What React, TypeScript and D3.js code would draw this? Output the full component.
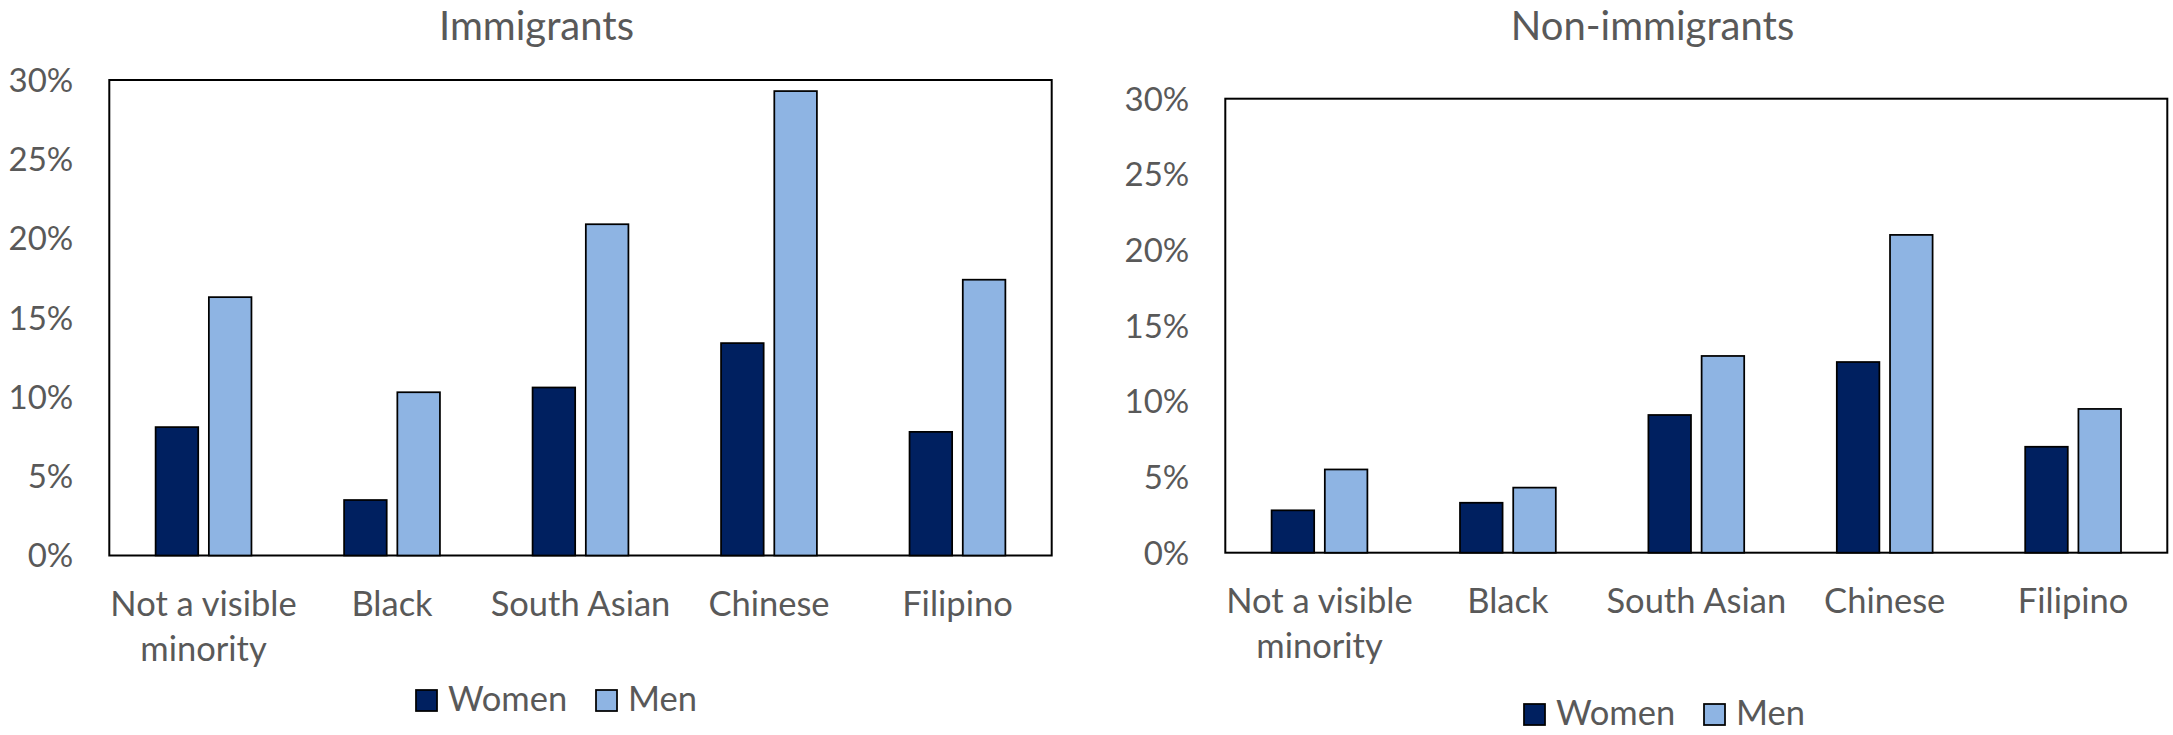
import * as d3 from "d3";

// categories and values (percent)
const categories = ["Not a visible minority", "Black", "South Asian", "Chinese", "Filipino"];
const categoryLines = [["Not a visible", "minority"], ["Black"], ["South Asian"], ["Chinese"], ["Filipino"]];
const seriesNames = ["Women", "Men"];
const seriesColors = ["#002060", "#8EB4E3"];

const immigrantWomen = [8.1, 3.5, 10.6, 13.4, 7.8];
const immigrantMen = [16.3, 10.3, 20.9, 29.3, 17.4];
const nonImmigrantWomen = [2.8, 3.3, 9.1, 12.6, 7.0];
const nonImmigrantMen = [5.5, 4.3, 13.0, 21.0, 9.5];

const yTicks = [0, 5, 10, 15, 20, 25, 30];

const FONT = "Lato, 'Open Sans', sans-serif";
const TEXT = "#595959";

type Box = { left: number; right: number; top: number; bottom: number };

type PanelProps = {
    title: string;
    women: number[];
    men: number[];
    box: Box;
    titleX: number;
    legendX: number;
    legendY: number;
};

const Panel = ({ title, women, men, box, titleX, legendX, legendY }: PanelProps) => {
    const x0 = d3.scaleBand().domain(categories).range([box.left, box.right]);
    const x1 = d3.scaleBand()
        .domain(seriesNames)
        .range([0, x0.bandwidth()])
        .paddingInner(0.2)
        .paddingOuter(0.87);
    const y = d3.scaleLinear().domain([0, 30]).range([box.bottom, box.top]);
    const fmt = (d: number) => `${d}%`;
    const values = [women, men];

    return (
        <g>
            <text x={titleX} y={40} textAnchor="middle" fontSize={40} fill={TEXT} fontFamily={FONT}>
                {title}
            </text>

            {/* y tick labels */}
            {yTicks.map(t => (
                <text key={t} x={box.left - 36} y={y(t)} dy="0.36em" textAnchor="end"
                      fontSize={33} fill={TEXT} fontFamily={FONT}>
                    {fmt(t)}
                </text>
            ))}

            {/* plot frame */}
            <rect x={box.left} y={box.top} width={box.right - box.left} height={box.bottom - box.top}
                  fill="none" stroke="#000" strokeWidth={2} />

            {/* bars */}
            {categories.map((c, i) => (
                <g key={c} transform={`translate(${x0(c)},0)`}>
                    {seriesNames.map((s, j) => (
                        <rect key={s}
                              x={x1(s)!}
                              y={y(values[j][i])}
                              width={x1.bandwidth()}
                              height={y(0) - y(values[j][i])}
                              fill={seriesColors[j]}
                              stroke="#000"
                              strokeWidth={1.75} />
                    ))}
                </g>
            ))}

            {/* category labels */}
            {categories.map((c, i) => (
                <text key={c} x={x0(c)! + x0.bandwidth() / 2} y={box.bottom + 60}
                      textAnchor="middle" fontSize={34.5} fill={TEXT} fontFamily={FONT}>
                    {categoryLines[i].map((line, k) => (
                        <tspan key={k} x={x0(c)! + x0.bandwidth() / 2} dy={k === 0 ? 0 : 45}>{line}</tspan>
                    ))}
                </text>
            ))}

            {/* legend */}
            {seriesNames.map((s, j) => (
                <g key={s} transform={`translate(${legendX + j * 180},${legendY})`}>
                    <rect x={0} y={-21} width={21} height={21} fill={seriesColors[j]} stroke="#000" strokeWidth={1.75} />
                    <text x={32} y={0} fontSize={34.5} fill={TEXT} fontFamily={FONT}>{s}</text>
                </g>
            ))}
        </g>
    );
};

const App = () => {
    return (
        <svg width={2173} height={735} style={{ position: "absolute", left: 0, top: 0, background: "#fff" }}>
            <rect width={2173} height={735} fill="#fff" />
            <Panel title="Immigrants" women={immigrantWomen} men={immigrantMen}
                   box={{ left: 109.3, right: 1051.7, top: 80, bottom: 555.5 }}
                   titleX={536.5} legendX={416} legendY={711} />
            <Panel title="Non-immigrants" women={nonImmigrantWomen} men={nonImmigrantMen}
                   box={{ left: 1225.3, right: 2167.3, top: 98.7, bottom: 552.7 }}
                   titleX={1652.5} legendX={1524} legendY={725} />
        </svg>
    );
};

export default App;
